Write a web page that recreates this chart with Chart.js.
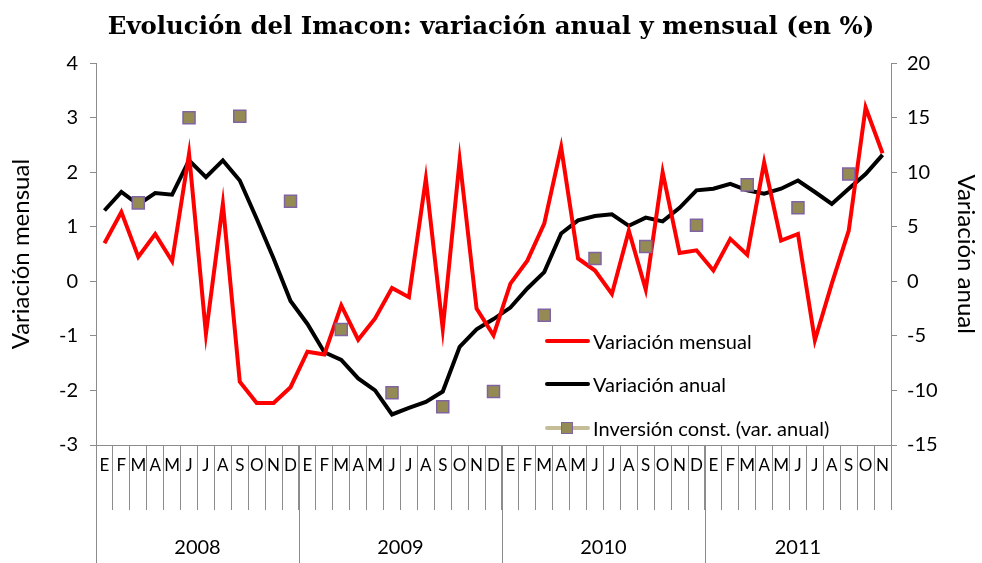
<!DOCTYPE html>
<html>
<head>
<meta charset="utf-8">
<script src="https://cdn.jsdelivr.net/npm/chart.js@4"></script>
<style>
  body { margin: 0; background: #fff; }
  #wrap { position: relative; width: 982px; height: 563px; }
  .leg { position: absolute; left: 545px; height: 20px; font-family: Lato, sans-serif; font-size: 20px; color: #000; white-space: nowrap; }
  .leg .ln { position: absolute; left: 0; top: 9px; width: 45px; height: 4px; border-radius: 2px; }
  .leg .tx { position: absolute; left: 48px; top: -1px; }
  .leg .mk { position: absolute; left: 16px; top: 5px; width: 10px; height: 10px; background: #948a54; border: 1.5px solid #8064a2; }
</style>
</head>
<body>
<div id="wrap">
  <canvas id="chart"></canvas>
  <div class="leg" style="top:330px"><span class="ln" style="background:#ff0000"></span><span class="tx">Variación mensual</span></div>
  <div class="leg" style="top:373px"><span class="ln" style="background:#000"></span><span class="tx">Variación anual</span></div>
  <div class="leg" style="top:417px"><span class="ln" style="background:#c4bd97"></span><span class="mk"></span><span class="tx">Inversión const. (var. anual)</span></div>
</div>
<script>
const months = ['E', 'F', 'M', 'A', 'M', 'J', 'J', 'A', 'S', 'O', 'N', 'D']
const years = ['2008', '2009', '2010', '2011']
const monthsLastYear = 11

// variación mensual (eje izq.)
const mensual = [
  0.70, 1.27, 0.45, 0.87, 0.37, 2.34, -0.96, 1.42, -1.84, -2.23, -2.23, -1.94,
  -1.29, -1.34, -0.44, -1.07, -0.68, -0.12, -0.29, 1.88, -0.87, 2.23, -0.50, -0.99,
  -0.04, 0.38, 1.06, 2.46, 0.42, 0.20, -0.23, 0.93, -0.15, 2.00, 0.52, 0.57,
  0.20, 0.78, 0.49, 2.18, 0.75, 0.87, -1.08, -0.04, 0.93, 3.19, 2.35,
]

// variación anual (eje der.)
const anual = [
  6.5, 8.2, 7.05, 8.1, 7.95, 11.1, 9.55, 11.1, 9.25, 5.75, 2.1, -1.8,
  -3.9, -6.5, -7.2, -8.9, -10.0, -12.2, -11.6, -11.05, -10.1, -6.0, -4.4, -3.45,
  -2.4, -0.65, 0.85, 4.4, 5.6, 6.0, 6.15, 5.1, 5.85, 5.5, 6.75, 8.35,
  8.5, 8.95, 8.35, 8.05, 8.5, 9.25, 8.2, 7.1, 8.5, 9.85, 11.6,
]

// inversión construcción, trimestral (mar, jun, sep, dic)
const inversionTrim = [
  7.2, 15.0, 15.15, 7.35,
  -4.4, -10.2, -11.5, -10.1,
  -3.1, 2.1, 3.2, 5.15,
  8.85, 6.75, 9.85,
]

const labels = []
const yearOf = []
years.forEach((y, yi) => {
  const n = yi === years.length - 1 ? monthsLastYear : 12
  for (let m = 0; m < n; m++) {
    labels.push(months[m])
    yearOf.push(y)
  }
})

const inversion = labels.map(() => null)
inversionTrim.forEach((v, q) => {
  inversion[q * 3 + 2] = v
})

const gridColor = '#8c8c8c'
const sans = 'Lato, sans-serif'

const yearPlugin = {
  id: 'years',
  afterDraw(chart) {
    const x = chart.scales.x
    const c = chart.ctx
    const step = x.getPixelForValue(1) - x.getPixelForValue(0)
    const top = x.top
    const bottom = chart.height
    c.save()
    c.strokeStyle = gridColor
    c.lineWidth = 1
    c.fillStyle = '#000'
    c.font = `20px ${sans}`
    c.textAlign = 'center'
    c.textBaseline = 'middle'
    years.forEach((y) => {
      const first = yearOf.indexOf(y)
      const last = yearOf.lastIndexOf(y)
      const x0 = x.getPixelForValue(first) - step / 2
      const x1 = x.getPixelForValue(last) + step / 2
      const px = Math.round(x0) + 0.5
      c.beginPath()
      c.moveTo(px, top)
      c.lineTo(px, bottom)
      c.stroke()
      c.fillText(y, (x0 + x1) / 2, 548)
    })
    c.restore()
  },
}

new Chart(document.getElementById('chart'), {
  type: 'line',
  data: {
    labels,
    datasets: [
      {
        label: 'Inversión const. (var. anual)',
        data: inversion,
        yAxisID: 'y1',
        showLine: false,
        pointStyle: 'rect',
        pointRadius: 8.5,
        pointBackgroundColor: '#948a54',
        pointBorderColor: '#8064a2',
        pointBorderWidth: 1.5,
      },
      {
        label: 'Variación mensual',
        data: mensual,
        yAxisID: 'y',
        borderColor: '#ff0000',
        borderWidth: 4,
        pointRadius: 0,
      },
      {
        label: 'Variación anual',
        data: anual,
        yAxisID: 'y1',
        borderColor: '#000000',
        borderWidth: 4,
        pointRadius: 0,
      },
    ],
  },
  options: {
    responsive: true,
    maintainAspectRatio: false,
    animation: false,
    layout: { padding: 0 },
    plugins: {
      legend: { display: false },
      tooltip: { enabled: false },
      title: {
        display: true,
        text: 'Evolución del Imacon: variación anual y mensual (en %)',
        color: '#000',
        font: { family: 'DejaVu Serif', size: 24.4, weight: 'bold' },
        padding: { top: 13, bottom: 21 },
      },
    },
    scales: {
      x: {
        offset: true,
        grid: { offset: true, drawOnChartArea: false, tickLength: 65, color: gridColor },
        border: { color: gridColor },
        ticks: { autoSkip: false, maxRotation: 0, padding: -55, color: '#000', font: { family: sans, size: 17 } },
        afterFit(scale) { scale.height = 118 },
      },
      y: {
        position: 'left',
        min: -3,
        max: 4,
        ticks: { stepSize: 1, padding: 12, color: '#000', font: { family: sans, size: 20 } },
        grid: { drawOnChartArea: false, tickLength: 6, color: gridColor },
        border: { color: gridColor },
        title: { display: true, text: 'Variación mensual', color: '#000', font: { family: sans, size: 24 }, padding: { top: 7 } },
        afterFit(scale) { scale.width = 96 },
      },
      y1: {
        position: 'right',
        min: -15,
        max: 20,
        ticks: { stepSize: 5, padding: 10, color: '#000', font: { family: sans, size: 20 } },
        grid: { drawOnChartArea: false, tickLength: 6, color: gridColor },
        border: { color: gridColor },
        title: { display: true, text: 'Variación anual', color: '#000', font: { family: sans, size: 24 }, padding: { top: 2 } },
        afterFit(scale) { scale.width = 91 },
      },
    },
  },
  plugins: [yearPlugin],
})
</script>
</body>
</html>
